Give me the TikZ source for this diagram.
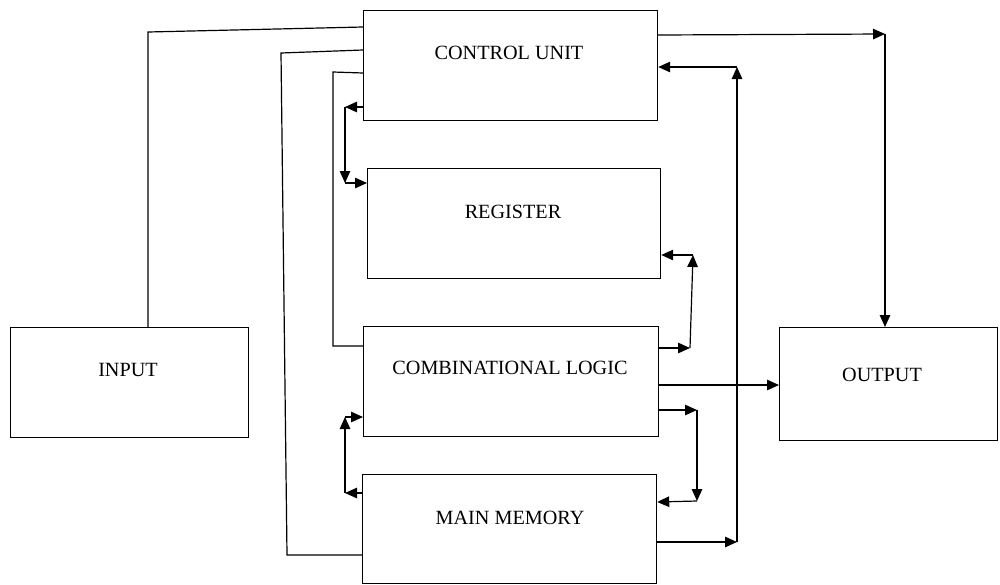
\documentclass[tikz,border=0pt]{standalone}
\usepackage{fontspec}
\setmainfont{Liberation Serif}
\usetikzlibrary{calc,arrows.meta}
\begin{document}
\begin{tikzpicture}[x=1pt,y=-1pt,
  blk/.style={draw, line width=1.2pt, inner sep=0pt, anchor=north west},
  lbl/.style={font=\fontsize{20.2}{23}\selectfont, inner sep=0pt},
  ln/.style={line width=1.2pt},
  arr/.style={line width=1.2pt, -{Triangle[length=12pt,width=10.5pt]}}]
\useasboundingbox (0,0) rectangle (1000,584);
% blocks
\node[blk, minimum width=294pt, minimum height=110pt] (cu)  at (363,10) {};
\node[blk, minimum width=293pt, minimum height=110pt] (reg) at (367,168) {};
\node[blk, minimum width=295pt, minimum height=110pt] (cl)  at (363,326) {};
\node[blk, minimum width=294pt, minimum height=109pt] (mm)  at (362,474) {};
\node[blk, minimum width=238pt, minimum height=110pt] (in)  at (10,327) {};
\node[blk, minimum width=218pt, minimum height=113pt] (out) at (779,327) {};
% labels
\node[lbl] (tcu)  at (509,53)  {CONTROL UNIT};
\node[lbl] (treg) at (513,212) {REGISTER};
\node[lbl] (tcl)  at (510,368) {COMBINATIONAL LOGIC};
\node[lbl] (tmm)  at (510,518) {MAIN MEMORY};
\node[lbl] (tin)  at (128,370) {INPUT};
\node[lbl] (tout) at (882,375) {OUTPUT};
% corner coordinates
\coordinate (a1) at (148,32);
\coordinate (a2) at (281,53);
\coordinate (a3) at (287,555);
\coordinate (a4) at (333,72);
\coordinate (a5) at (333,346);
\coordinate (b1) at (345,107);
\coordinate (b2) at (345,183);
\coordinate (c1) at (690,348);
\coordinate (c2) at (693,255);
\coordinate (d1) at (697,410);
\coordinate (d2) at (697,501);
\coordinate (e1) at (345,493);
\coordinate (e2) at (345,417);
\coordinate (f1) at (737,542);
\coordinate (f2) at (737,67);
\coordinate (g1) at (885,34);
% input to control unit
\draw[ln] ($(in.north west)+(138,0)$) -- (a1) -- ($(cu.north west)+(0,17)$);
% control unit to main memory
\draw[ln] ($(cu.north west)+(0,40)$) -- (a2) -- (a3) -- ($(mm.north west)+(0,81)$);
% control unit to combinational logic
\draw[ln] ($(cu.north west)+(0,63)$) -- (a4) -- (a5) -- ($(cl.north west)+(0,20)$);
% control unit <-> register
\draw[arr] ($(cu.north west)+(0,97)$) -- (b1);
\draw[arr] (b1) -- (b2);
\draw[arr] (b2) -- ($(reg.north west)+(0,15)$);
% combinational logic <-> register
\draw[arr] ($(cl.north east)+(0,22)$) -- (c1);
\draw[arr] (c1) -- (c2);
\draw[arr] (c2) -- ($(reg.north east)+(0,87)$);
% combinational logic <-> main memory (right)
\draw[arr] ($(cl.north east)+(0,84)$) -- (d1);
\draw[arr] (d1) -- (d2);
\draw[arr] (d2) -- ($(mm.north east)+(0,28)$);
% main memory <-> combinational logic (left)
\draw[arr] ($(mm.north west)+(0,19)$) -- (e1);
\draw[arr] (e1) -- (e2);
\draw[arr] (e2) -- ($(cl.north west)+(0,91)$);
% combinational logic to output
\draw[arr] ($(cl.north east)+(0,59)$) -- ($(out.north west)+(0,58)$);
% main memory to control unit
\draw[arr] ($(mm.north east)+(0,68)$) -- (f1);
\draw[arr] (f1) -- (f2);
\draw[arr] (f2) -- ($(cu.north east)+(0,57)$);
% control unit to output
\draw[arr] ($(cu.north east)+(0,25)$) -- (g1);
\draw[arr] (g1) -- ($(out.north west)+(106,0)$);
\end{tikzpicture}
\end{document}
